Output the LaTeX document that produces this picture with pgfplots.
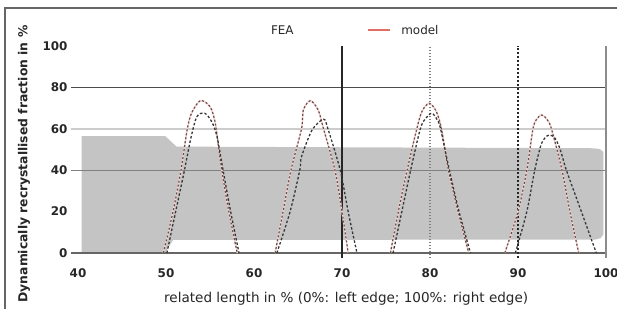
\documentclass[border=0pt]{standalone}
\usepackage{fontspec}
\setmainfont{DejaVu Sans}
\usepackage{pgfplots}
\pgfplotsset{compat=1.18}
\definecolor{fillgrey}{RGB}{196,196,196}
\definecolor{modelred}{RGB}{225,110,100}
\definecolor{pinkline}{RGB}{248,212,208}
\definecolor{outerc}{RGB}{105,80,80}
\definecolor{innerc}{RGB}{55,55,55}
\begin{document}
\begin{tikzpicture}[x=1bp,y=1bp]
\useasboundingbox (-78,-56) rectangle (539,253);
\draw[black!60, line width=1.6bp] (-73,-56) -- (-73,245) -- (539,245);
\begin{axis}[
  at={(0,0)}, anchor=south west,
  scale only axis, width=528bp, height=207bp,
  xmin=40, xmax=100, ymin=0, ymax=100,
  axis line style={draw=none},
  major tick length=0pt,
  xtick={40,50,...,100}, ytick={0,20,...,100},
  clip=false,
  /pgf/number format/assume math mode=true,
  tick label style={font=\fontsize{12}{14}\selectfont\bfseries, text=black!85},
  xticklabel style={yshift=-12bp},
  yticklabel style={xshift=-7bp},
  xlabel={related length in \% (0\%: left edge; 100\%: right edge)},
  ylabel={Dynamically recrystallised fraction in \%},
  xlabel style={at={(axis description cs:0.508,0)}, anchor=center, yshift=-46bp, font=\fontsize{13.6}{15}\selectfont, text=black!85},
  ylabel style={at={(axis description cs:-0.1023,0.43)}, anchor=center, font=\fontsize{12.4}{15}\selectfont\bfseries, text=black!85},
  pinkstyle/.style={pinkline, line width=1.6bp, smooth, tension=0.5},
  outerstyle/.style={outerc, line width=1.2bp, dash pattern=on 2bp off 2bp, smooth, tension=0.5},
  innerstyle/.style={innerc, line width=1.3bp, dash pattern=on 2.5bp off 2bp, smooth, tension=0.5},
]
% FEA band
\addplot[fill=fillgrey, draw=none] coordinates {
 (40.4,0) (40.4,56.5) (49.9,56.5) (51.2,51.4) (98.6,50.6) (99.3,50.2) (99.7,48.8)
 (99.7,9) (99.4,7.2) (98.8,6.5) (50.8,6.3) (49.9,0)} -- cycle;
% horizontal grid lines
\addplot[black!20, line width=1.4bp] coordinates {(39.2,60) (100,60)};
\addplot[black!50, line width=1.4bp] coordinates {(39.2,40) (100,40)};
\addplot[black!70, line width=1.8bp] coordinates {(39.2,80) (100,80)};
\addplot[black!60, line width=1.8bp] coordinates {(39.2,0) (100,0)};
% vertical lines
\addplot[black!85, line width=1.4bp] coordinates {(70,-2.5) (70,100)};
\addplot[black!50, line width=1.2bp, dash pattern=on 1.5bp off 1.5bp] coordinates {(80,-2.5) (80,100)};
\addplot[black!85, line width=1.4bp, dash pattern=on 2.5bp off 1.5bp] coordinates {(90,-2.5) (90,100)};
\addplot[black!45, line width=1.4bp] coordinates {(100,-2.5) (100,100)};

% bump 1
\addplot[pinkstyle] coordinates {(49.7,0) (50.8,20) (51.7,40) (52.4,59.4) (52.9,67.5) (53.9,73.6) (55.0,70.7) (55.6,62.7) (56.2,44) (57.1,21) (58.1,0)};
\addplot[outerstyle] coordinates {(49.7,0) (50.8,20) (51.7,40) (52.4,59.4) (52.9,67.5) (53.9,73.6) (55.0,70.7) (55.6,62.7) (56.2,44) (57.1,21) (58.1,0)};
\addplot[innerstyle] coordinates {(50.1,0) (51.1,20) (52.1,40) (52.8,55) (53.5,65.8) (54.4,67.5) (55.2,63.4) (55.8,56.2) (56.4,42) (57.3,21) (58.3,0)};
% bump 2
\addplot[pinkstyle] coordinates {(62.4,0) (63.3,20) (64.2,40) (65.4,60) (65.6,69) (66.4,73.6) (67.3,69) (67.9,60) (69.2,40) (70.0,20) (70.7,0)};
\addplot[outerstyle] coordinates {(62.4,0) (63.3,20) (64.2,40) (65.4,60) (65.6,69) (66.4,73.6) (67.3,69) (67.9,60) (69.2,40) (70.0,20) (70.7,0)};
\addplot[innerstyle] coordinates {(62.6,0) (64.1,20) (65.2,40) (65.4,46.5) (66.6,59.4) (67.9,64.6) (68.4,60) (69.8,40) (70.7,20) (71.7,0)};
% bump 3
\addplot[pinkstyle] coordinates {(75.5,0) (76.4,20) (77.4,40) (78.5,60) (79.1,68.5) (79.9,72.3) (80.7,68.5) (81.3,60) (82.1,40) (83.2,20) (84.4,0)};
\addplot[outerstyle] coordinates {(75.5,0) (76.4,20) (77.4,40) (78.5,60) (79.1,68.5) (79.9,72.3) (80.7,68.5) (81.3,60) (82.1,40) (83.2,20) (84.4,0)};
\addplot[innerstyle] coordinates {(75.8,0) (76.8,20) (77.8,40) (78.9,60) (79.5,65) (80.2,67.5) (80.8,64.5) (81.2,60) (82.2,40) (83.3,20) (84.6,0)};
% bump 4
\addplot[pinkstyle] coordinates {(88.5,0) (90.0,20) (91.0,40) (91.7,60) (92.1,64.5) (92.7,66.7) (93.3,64.5) (93.8,60) (95.0,40) (95.9,20) (96.9,0)};
\addplot[outerstyle] coordinates {(88.5,0) (90.0,20) (91.0,40) (91.7,60) (92.1,64.5) (92.7,66.7) (93.3,64.5) (93.8,60) (95.0,40) (95.9,20) (96.9,0)};
\addplot[innerstyle] coordinates {(89.7,0) (91.0,20) (91.9,40) (92.6,52) (93.1,55.8) (93.6,57.0) (94.2,55.5) (94.8,50) (95.5,40) (97.2,20) (98.9,0)};

% legend
\node[font=\fontsize{12}{14}\selectfont, text=black!85, anchor=center] at (axis description cs:0.387,1.077) {FEA};
\draw[modelred, line width=1.4bp] (axis description cs:0.549,1.077) -- (axis description cs:0.591,1.077);
\node[font=\fontsize{12}{14}\selectfont, text=black!85, anchor=west, inner sep=0pt] at (axis description cs:0.612,1.077) {model};
\end{axis}
\end{tikzpicture}
\end{document}
